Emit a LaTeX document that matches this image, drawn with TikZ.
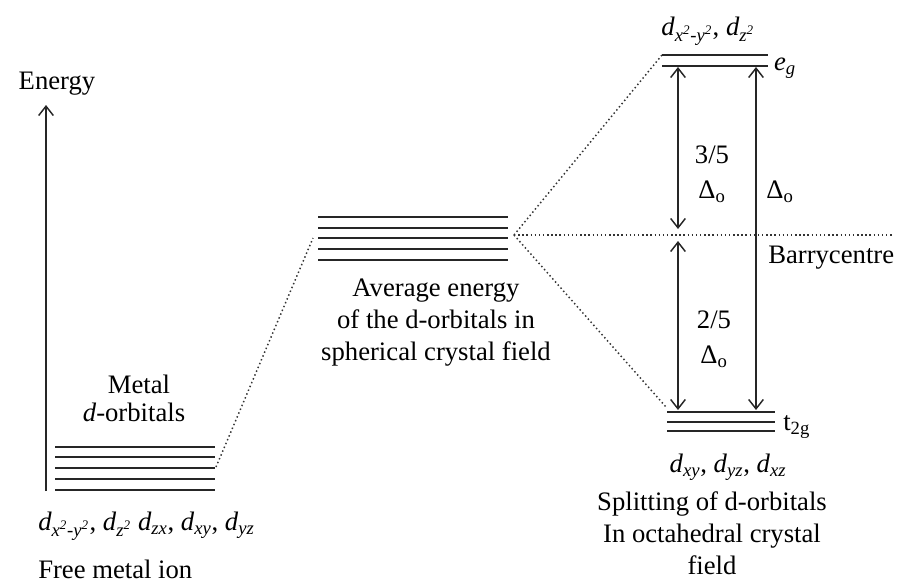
\documentclass[tikz,border=0pt]{standalone}
\usepackage{fontspec}
\setmainfont{Liberation Serif}
\usetikzlibrary{arrows.meta}
\newcommand{\dsb}[1]{\textit{d}\textsubscript{\textit{#1}}}
\newcommand{\sqr}{\textsuperscript{2}}
\begin{document}
\begin{tikzpicture}[x=0.75pt,y=-0.75pt,
  lvl/.style={line width=1.6pt, draw=black!85},
  dots/.style={dotted, line width=1.1pt, draw=black!80},
  arr/.style={line width=1.1pt, draw=black!85, -{Straight Barb[length=7pt,width=11pt]}},
  darr/.style={line width=1.1pt, draw=black!85, {Straight Barb[length=7pt,width=11pt]}-{Straight Barb[length=7pt,width=11pt]}},
  lab/.style={font=\fontsize{20}{24}\selectfont, inner sep=0pt, align=center}]
\useasboundingbox (0,0) rectangle (907,583);
% Energy axis
\coordinate (ax0) at (46,491);
\coordinate (ax1) at (46,105);
\draw[arr] (ax0) -- (ax1);
\node[lab] (energy) at (57,84) {Energy};
% metal d-orbitals
\foreach \y [count=\i] in {447,457,468,479,490}{
  \coordinate (mL\i) at (55,\y);
  \coordinate (mR\i) at (215,\y);
  \draw[lvl] (mL\i) -- (mR\i);
}
\node[lab] (metal) at (139,384) {Metal};
\node[lab] (dorb) at (134,412) {\textit{d}-orbitals};
\node[lab, anchor=west] (freelab) at (38,526) {\dsb{x\sqr-y\sqr}, \dsb{z\sqr} \dsb{zx}, \dsb{xy}, \dsb{yz}};
\node[lab, anchor=west] (free) at (38,569) {Free metal ion};
% average level
\foreach \y [count=\i] in {217,228,238,249,260}{
  \coordinate (aL\i) at (318,\y);
  \coordinate (aR\i) at (508,\y);
  \draw[lvl] (aL\i) -- (aR\i);
}
\node[lab] (avg) at (436,323) {Average energy\\of the d-orbitals in\\spherical crystal field};
% dotted connectors
\coordinate (mdot) at (216,467);
\coordinate (adot) at (313,238);
\draw[dots] (mdot) -- (adot);
\coordinate (apex) at (514,235);
\coordinate (egdot) at (662,55);
\coordinate (tdot) at (666,407);
\coordinate (bcend) at (893,235);
\draw[dots] (apex) -- (egdot);
\draw[dots] (apex) -- (tdot);
\draw[dots] (apex) -- (bcend);
% eg levels
\coordinate (eL1) at (662,55); \coordinate (eR1) at (768,55);
\coordinate (eL2) at (662,66); \coordinate (eR2) at (768,66);
\draw[lvl] (eL1) -- (eR1);
\draw[lvl] (eL2) -- (eR2);
\node[lab] (eg) at (785,68) {\textit{e}\textsubscript{\textit{g}}};
\node[lab] (egorb) at (708,31) {\dsb{x\sqr-y\sqr}, \dsb{z\sqr}};
% t2g levels
\coordinate (tL1) at (667,412); \coordinate (tR1) at (775,412);
\coordinate (tL2) at (667,422); \coordinate (tR2) at (775,422);
\coordinate (tL3) at (667,431); \coordinate (tR3) at (775,431);
\draw[lvl] (tL1) -- (tR1);
\draw[lvl] (tL2) -- (tR2);
\draw[lvl] (tL3) -- (tR3);
\node[lab, anchor=west] (t2g) at (783,427) {t\textsubscript{2g}};
\node[lab] (torb) at (728,467) {\dsb{xy}, \dsb{yz}, \dsb{xz}};
\node[lab] (split) at (712,533) {Splitting of d-orbitals\\In octahedral crystal\\field};
% arrows
\coordinate (a1t) at (678,67);
\coordinate (a1b) at (678,229);
\coordinate (a2t) at (678,241);
\coordinate (a2b) at (678,410);
\coordinate (a3t) at (756,67);
\coordinate (a3b) at (756,410);
\draw[darr] (a1t) -- (a1b);
\draw[darr] (a2t) -- (a2b);
\draw[darr] (a3t) -- (a3b);
\node[lab] (tf) at (712,174) {3/5\\[2pt]Δ\textsubscript{o}};
\node[lab] (to) at (714,339) {2/5\\[2pt]Δ\textsubscript{o}};
\node[lab] (do) at (780,192) {Δ\textsubscript{o}};
\node[lab, anchor=west] (bary) at (768,258) {Barrycentre};
\end{tikzpicture}
\end{document}
